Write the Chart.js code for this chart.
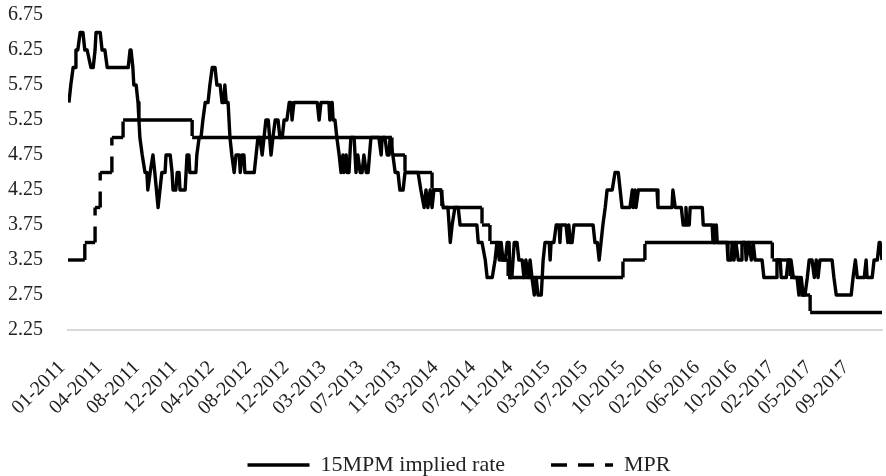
<!DOCTYPE html>
<html>
<head>
<meta charset="utf-8">
<script src="https://cdn.jsdelivr.net/npm/chart.js@4.4.1/dist/chart.umd.min.js"></script>
<style>
  html, body { margin: 0; padding: 0; background: #fff; }
  #wrap { width: 886px; height: 476px; }
</style>
</head>
<body>
<div id="wrap"><canvas id="rateChart"></canvas></div>
<script>
// x is a trading-day index, one axis label every 80 days
const tickEvery = 80;
const lastDay = 1744;

const xTickLabels = ['01-2011', '04-2011', '08-2011', '12-2011', '04-2012', '08-2012', '12-2012',
  '03-2013', '07-2013', '11-2013', '03-2014', '07-2014', '11-2014', '03-2015', '07-2015',
  '10-2015', '02-2016', '06-2016', '10-2016', '02-2017', '05-2017', '09-2017'];

// 15MPM implied rate, [day, rate] at each turn of the line
const impliedRate = [
  [2, 5.5], [6, 5.75], [11, 6.0], [15, 6.0], [17, 6.25], [21, 6.25], [26, 6.5], [32, 6.5],
  [36, 6.25], [41, 6.25], [49, 6.0], [54, 6.0], [58, 6.25], [60, 6.5], [69, 6.5], [73, 6.25],
  [79, 6.25], [84, 6.0], [129, 6.0], [133, 6.25], [135, 6.25], [139, 6.0], [141, 5.75], [146, 5.75],
  [150, 5.5], [152, 5.25], [154, 5.0], [159, 4.75], [165, 4.5], [169, 4.5], [171, 4.25], [176, 4.5],
  [182, 4.75], [186, 4.5], [193, 4.0], [197, 4.25], [201, 4.5], [208, 4.5], [210, 4.75], [219, 4.75],
  [223, 4.5], [225, 4.25], [231, 4.25], [234, 4.5], [238, 4.5], [240, 4.25], [251, 4.25], [255, 4.75],
  [259, 4.75], [261, 4.5], [274, 4.5], [276, 4.75], [281, 5.0], [285, 5.0], [289, 5.25], [294, 5.5],
  [300, 5.5], [304, 5.75], [309, 6.0], [315, 6.0], [319, 5.75], [326, 5.75], [330, 5.5], [334, 5.5],
  [336, 5.75], [339, 5.5], [343, 5.5], [347, 5.0], [351, 4.75], [356, 4.5], [360, 4.75], [367, 4.75],
  [369, 4.5], [373, 4.75], [377, 4.75], [379, 4.5], [399, 4.5], [403, 4.75], [407, 5.0], [411, 5.0],
  [416, 4.75], [420, 5.0], [424, 5.25], [429, 5.25], [435, 4.75], [439, 5.0], [444, 5.25], [450, 5.25],
  [454, 5.0], [459, 5.0], [463, 5.25], [469, 5.25], [474, 5.5], [478, 5.5], [480, 5.25], [484, 5.5],
  [534, 5.5], [538, 5.25], [542, 5.5], [559, 5.5], [561, 5.25], [564, 5.5], [566, 5.5], [568, 5.25],
  [572, 5.25], [576, 5.0], [581, 4.75], [585, 4.5], [589, 4.75], [591, 4.5], [596, 4.75], [598, 4.5],
  [602, 4.5], [606, 5.0], [613, 5.0], [617, 4.5], [621, 4.75], [626, 4.5], [630, 4.5], [634, 4.75],
  [639, 4.5], [643, 4.5], [649, 5.0], [666, 5.0], [671, 4.75], [673, 5.0], [679, 5.0], [684, 4.75],
  [688, 4.75], [690, 5.0], [692, 5.0], [696, 4.75], [701, 4.5], [707, 4.5], [711, 4.25], [718, 4.25],
  [722, 4.5], [750, 4.5], [756, 4.25], [763, 4.0], [767, 4.25], [771, 4.0], [776, 4.25], [780, 4.0],
  [784, 4.25], [799, 4.25], [804, 4.0], [814, 4.0], [819, 3.5], [823, 3.75], [829, 4.0], [836, 4.0],
  [840, 3.75], [876, 3.75], [879, 3.5], [887, 3.5], [894, 3.25], [898, 3.0], [909, 3.0], [915, 3.25],
  [919, 3.5], [924, 3.25], [928, 3.5], [932, 3.25], [937, 3.25], [941, 3.5], [945, 3.5], [947, 3.0],
  [951, 3.0], [956, 3.5], [962, 3.5], [966, 3.25], [973, 3.25], [977, 3.0], [981, 3.25], [986, 3.0],
  [990, 3.25], [994, 3.0], [999, 2.75], [1003, 3.0], [1007, 2.75], [1014, 2.75], [1018, 3.25], [1022, 3.5],
  [1031, 3.5], [1033, 3.25], [1035, 3.5], [1041, 3.5], [1046, 3.75], [1052, 3.75], [1054, 3.5], [1056, 3.75],
  [1067, 3.75], [1071, 3.5], [1073, 3.75], [1076, 3.5], [1080, 3.5], [1084, 3.75], [1125, 3.75], [1129, 3.5],
  [1134, 3.5], [1138, 3.25], [1142, 3.5], [1146, 3.75], [1151, 4.0], [1155, 4.25], [1166, 4.25], [1172, 4.5],
  [1179, 4.5], [1183, 4.25], [1187, 4.0], [1204, 4.0], [1209, 4.25], [1211, 4.0], [1215, 4.25], [1217, 4.0],
  [1222, 4.25], [1262, 4.25], [1264, 4.0], [1294, 4.0], [1296, 4.25], [1301, 4.0], [1314, 4.0], [1318, 3.75],
  [1322, 3.75], [1324, 4.0], [1326, 3.75], [1331, 3.75], [1333, 4.0], [1359, 4.0], [1361, 3.75], [1380, 3.75],
  [1382, 3.5], [1384, 3.75], [1387, 3.5], [1389, 3.75], [1391, 3.5], [1412, 3.5], [1414, 3.25], [1421, 3.25],
  [1423, 3.5], [1427, 3.25], [1431, 3.5], [1436, 3.25], [1442, 3.25], [1444, 3.5], [1451, 3.5], [1453, 3.25],
  [1459, 3.5], [1464, 3.25], [1468, 3.5], [1472, 3.25], [1487, 3.25], [1491, 3.0], [1517, 3.0], [1519, 3.25],
  [1526, 3.25], [1528, 3.0], [1539, 3.0], [1543, 3.25], [1549, 3.25], [1554, 3.0], [1562, 3.0], [1566, 2.75],
  [1571, 3.0], [1575, 2.75], [1579, 2.75], [1584, 3.0], [1588, 3.25], [1594, 3.25], [1599, 3.0], [1603, 3.25],
  [1607, 3.0], [1611, 3.25], [1637, 3.25], [1641, 3.0], [1646, 2.75], [1678, 2.75], [1682, 3.0], [1687, 3.25],
  [1691, 3.0], [1706, 3.0], [1710, 3.25], [1712, 3.0], [1723, 3.0], [1727, 3.25], [1734, 3.25], [1738, 3.5],
  [1740, 3.5], [1744, 3.25]
];

// MPR: day of each change and the rate from that day on
const mprDays = [0, 36, 58, 69, 94, 118, 266, 694, 722, 780, 801, 887, 904, 926, 943, 1189, 1236, 1509, 1547, 1569, 1590];
const mprRates = [3.25, 3.5, 4.0, 4.5, 5.0, 5.25, 5.0, 4.75, 4.5, 4.25, 4.0, 3.75, 3.5, 3.25, 3.0, 3.25, 3.5, 3.25, 3.0, 2.75, 2.5];

const serif = 'Liberation Serif';
const textColor = '#222';
const dash = [16, 11];

Chart.defaults.font.family = serif;
Chart.defaults.color = textColor;

// staircase: the rate holds until the next change day
const mprPoints = [];
mprDays.forEach((d, i) => {
  if (i > 0) mprPoints.push({ x: d, y: mprRates[i - 1] });
  mprPoints.push({ x: d, y: mprRates[i] });
});
mprPoints.push({ x: lastDay, y: mprRates[mprRates.length - 1] });

// legend row sits a bit right of and above where Chart.js puts it
// (legend clips to its box, so only the top edge moves up)
const legendNudge = {
  id: 'legendNudge',
  afterLayout(chart) {
    const lg = chart.legend;
    lg.left += 18;
    lg.right += 18;
    lg.top -= 6;
  }
};

const ctx = document.getElementById('rateChart').getContext('2d');
const rateChart = new Chart(ctx, {
  type: 'line',
  data: {
    datasets: [{
      label: '15MPM implied rate',
      data: impliedRate.map(p => ({ x: p[0], y: p[1] })),
      borderColor: '#000',
      backgroundColor: '#000',
      borderWidth: 3.4,
      borderJoinStyle: 'round',
      pointRadius: 0,
      tension: 0
    }, {
      label: 'MPR',
      data: mprPoints,
      borderColor: '#000',
      backgroundColor: '#000',
      borderWidth: 3.4,
      borderDash: dash,
      pointRadius: 0,
      tension: 0,
      // only the jumps look dashed, the flat runs are solid
      segment: {
        borderDash: c => c.p0.parsed.x === c.p1.parsed.x ? dash : []
      }
    }]
  },
  plugins: [legendNudge],
  options: {
    responsive: true,
    maintainAspectRatio: false,
    animation: false,
    layout: { padding: { top: 15, left: 0, right: 4, bottom: 0 } },
    plugins: {
      legend: {
        position: 'bottom',
        maxHeight: 62,
        labels: {
          usePointStyle: true,
          pointStyle: 'line',
          pointStyleWidth: 62,
          padding: 46,
          color: textColor,
          font: { size: 22 },
          generateLabels: chart => Chart.defaults.plugins.legend.labels.generateLabels(chart).map(item => {
            const ds = chart.data.datasets[item.datasetIndex];
            item.lineDash = ds.borderDash || [];
            item.lineDashOffset = 0;
            return item;
          })
        }
      },
      tooltip: { enabled: false }
    },
    scales: {
      x: {
        type: 'linear',
        min: 0,
        max: lastDay,
        grid: { display: false, drawTicks: false },
        border: { display: true, color: '#d9d9d9', width: 2 },
        afterBuildTicks: s => {
          s.ticks = xTickLabels.map((_, i) => ({ value: i * tickEvery }));
        },
        afterFit: s => {
          s.height = 84;
          s.paddingLeft = 0;
          s.paddingRight = 0;
        },
        ticks: {
          autoSkip: false,
          minRotation: 45,
          maxRotation: 45,
          padding: 26,
          labelOffset: -6,
          color: textColor,
          font: { size: 20 },
          callback: v => xTickLabels[Math.round(v / tickEvery)]
        }
      },
      y: {
        min: 2.25,
        max: 6.75,
        grid: { display: false, drawTicks: false },
        border: { display: false },
        afterFit: s => {
          s.width = 68;
          s.paddingTop = 0;
          s.paddingBottom = 0;
        },
        ticks: {
          stepSize: 0.5,
          padding: 25,
          color: textColor,
          font: { size: 20 },
          callback: v => v.toFixed(2)
        }
      }
    }
  }
});
</script>
</body>
</html>
